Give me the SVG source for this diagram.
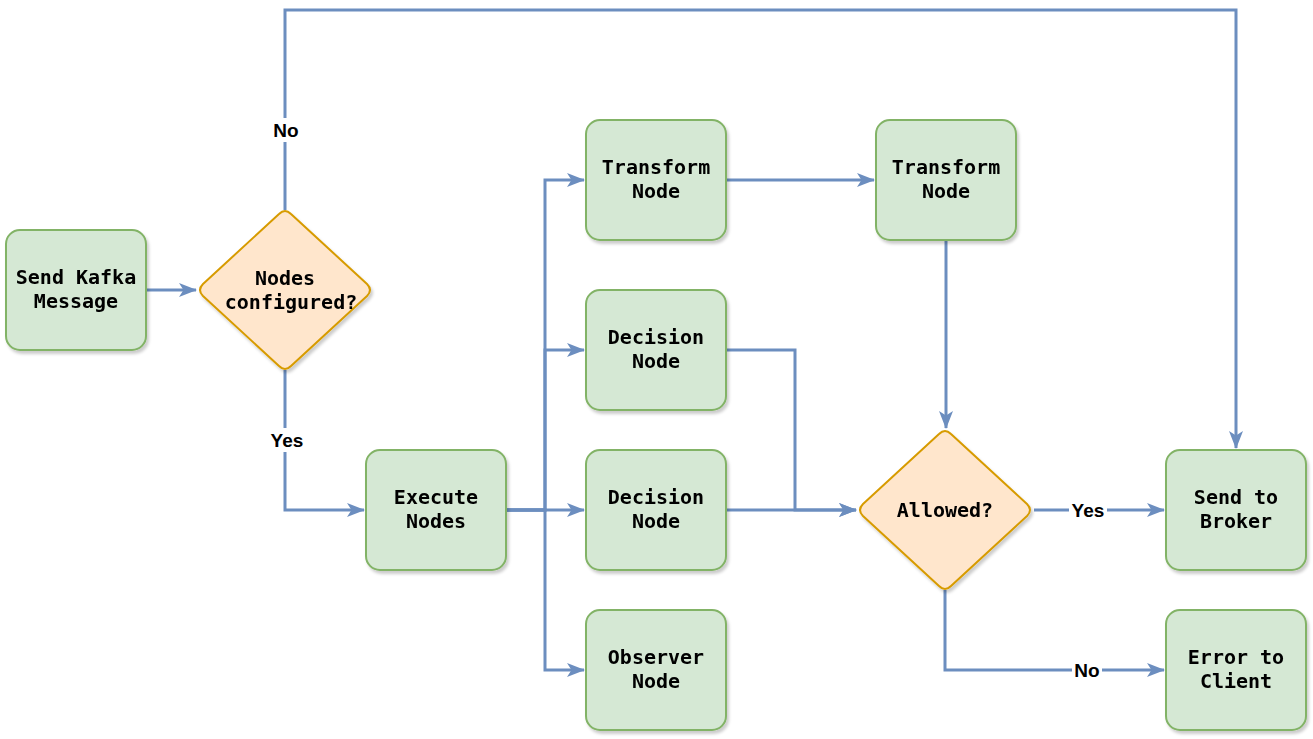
<svg xmlns="http://www.w3.org/2000/svg" width="1313" height="739" viewBox="0 0 1313 739">
<style>
.box{fill:#d5e8d4;stroke:#82b366;stroke-width:2}
.dia{fill:#ffe6cc;stroke:#d79b00;stroke-width:2;stroke-linejoin:round}
.t{font-family:"DejaVu Sans Mono",monospace;font-weight:bold;font-size:20px;fill:#000;text-anchor:middle}
.e{fill:none;stroke:#6c8ebf;stroke-width:3}
.lb{font-family:"Liberation Sans",Arial,sans-serif;font-weight:bold;font-size:19px;fill:#000;text-anchor:middle}
.lbg{fill:#fff}
</style>
<defs>
<marker id="ar" viewBox="0 0 18 14" refX="17" refY="7" markerWidth="18" markerHeight="14" markerUnits="userSpaceOnUse" orient="auto">
<path d="M0,0 L18,7 L0,14 L4.5,7 Z" fill="#6c8ebf"/>
</marker>
<filter id="sh" x="-10%" y="-10%" width="130%" height="130%">
<feDropShadow dx="2" dy="3" stdDeviation="1.5" flood-color="#000" flood-opacity="0.2"/>
</filter>
</defs>
<rect width="1313" height="739" fill="#fff"/>
<g id="connectors">
<path class="e" marker-end="url(#ar)" d="M146,290 H196"/>
<path class="e" marker-end="url(#ar)" d="M285,210 V10 H1236 V448"/>
<path class="e" marker-end="url(#ar)" d="M285,370 V510 H364"/>
<path class="e" marker-end="url(#ar)" d="M506,510 H545 V180 H584"/>
<path class="e" marker-end="url(#ar)" d="M506,510 H545 V350 H584"/>
<path class="e" marker-end="url(#ar)" d="M506,510 H584"/>
<path class="e" marker-end="url(#ar)" d="M506,510 H545 V670 H584"/>
<path class="e" marker-end="url(#ar)" d="M726,180 H874"/>
<path class="e" marker-end="url(#ar)" d="M946,240 V428"/>
<path class="e" marker-end="url(#ar)" d="M726,350 H795 V510 H856"/>
<path class="e" marker-end="url(#ar)" d="M726,510 H856"/>
<path class="e" marker-end="url(#ar)" d="M1034,510 H1164"/>
<path class="e" marker-end="url(#ar)" d="M945,590 V670 H1164"/>
<rect class="lbg" x="271" y="118" width="30" height="24"/>
<text class="lb" x="286" y="137">No</text>
<rect class="lbg" x="268" y="428" width="38" height="24"/>
<text class="lb" x="287" y="447">Yes</text>
<rect class="lbg" x="1069" y="498" width="38" height="24"/>
<text class="lb" x="1088" y="517">Yes</text>
<rect class="lbg" x="1072" y="658" width="30" height="24"/>
<text class="lb" x="1087" y="677">No</text>
</g>
<g id="send-kafka" filter="url(#sh)">
<rect class="box" x="6" y="230" width="140" height="120" rx="14"/>
<text class="t" x="76" y="284">Send Kafka</text>
<text class="t" x="76" y="308">Message</text>
</g>
<g id="nodes-configured" filter="url(#sh)">
<path class="dia" d="M279,214 Q285,208 291,214 L367,284 Q373,290 367,296 L291,366 Q285,372 279,366 L203,296 Q197,290 203,284 Z"/>
<text class="t" x="285" y="285">Nodes</text>
<text class="t" x="291" y="309">configured?</text>
</g>
<g id="execute-nodes" filter="url(#sh)">
<rect class="box" x="366" y="450" width="140" height="120" rx="14"/>
<text class="t" x="436" y="504">Execute</text>
<text class="t" x="436" y="528">Nodes</text>
</g>
<g id="transform-1" filter="url(#sh)">
<rect class="box" x="586" y="120" width="140" height="120" rx="14"/>
<text class="t" x="656" y="174">Transform</text>
<text class="t" x="656" y="198">Node</text>
</g>
<g id="decision-1" filter="url(#sh)">
<rect class="box" x="586" y="290" width="140" height="120" rx="14"/>
<text class="t" x="656" y="344">Decision</text>
<text class="t" x="656" y="368">Node</text>
</g>
<g id="decision-2" filter="url(#sh)">
<rect class="box" x="586" y="450" width="140" height="120" rx="14"/>
<text class="t" x="656" y="504">Decision</text>
<text class="t" x="656" y="528">Node</text>
</g>
<g id="observer" filter="url(#sh)">
<rect class="box" x="586" y="610" width="140" height="120" rx="14"/>
<text class="t" x="656" y="664">Observer</text>
<text class="t" x="656" y="688">Node</text>
</g>
<g id="transform-2" filter="url(#sh)">
<rect class="box" x="876" y="120" width="140" height="120" rx="14"/>
<text class="t" x="946" y="174">Transform</text>
<text class="t" x="946" y="198">Node</text>
</g>
<g id="allowed" filter="url(#sh)">
<path class="dia" d="M939,434 Q945,428 951,434 L1027,504 Q1033,510 1027,516 L951,586 Q945,592 939,586 L863,516 Q857,510 863,504 Z"/>
<text class="t" x="945" y="517">Allowed?</text>
</g>
<g id="send-broker" filter="url(#sh)">
<rect class="box" x="1166" y="450" width="140" height="120" rx="14"/>
<text class="t" x="1236" y="504">Send to</text>
<text class="t" x="1236" y="528">Broker</text>
</g>
<g id="error-client" filter="url(#sh)">
<rect class="box" x="1166" y="610" width="140" height="120" rx="14"/>
<text class="t" x="1236" y="664">Error to</text>
<text class="t" x="1236" y="688">Client</text>
</g>
</svg>
